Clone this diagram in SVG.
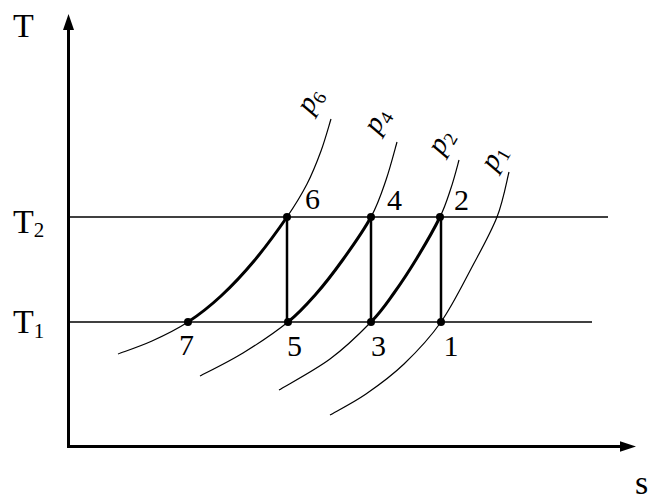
<svg xmlns="http://www.w3.org/2000/svg" width="651" height="501" viewBox="0 0 651 501">
<style>
.ax{stroke:#000;stroke-width:3;fill:none}
.hl{stroke:#000;stroke-width:1.6;fill:none}
.vl{stroke:#000;stroke-width:2.5;fill:none}
.thin{stroke:#000;stroke-width:1.2;fill:none}
.thick{stroke:#000;stroke-width:3;fill:none}
.lab{font-family:"Liberation Serif","Times New Roman",serif;fill:#000}
.big{font-size:34px}
.num{font-size:30px}
.pl{font-size:29px;font-style:italic}
</style>
<rect width="651" height="501" fill="#fff"/>
<g id="connectors">
  <line class="ax" x1="68.5" y1="448" x2="68.5" y2="28"/>
  <polygon points="68.5,14 63,30 74,30" fill="#000"/>
  <line class="ax" x1="67" y1="446.5" x2="622" y2="446.5"/>
  <polygon points="636,446.5 620,441.2 620,451.8" fill="#000"/>
  <line class="hl" x1="68" y1="217" x2="608" y2="217"/>
  <line class="hl" x1="68" y1="322" x2="592" y2="322"/>
  <line class="vl" x1="287" y1="217" x2="287" y2="322"/>
  <line class="vl" x1="371" y1="217" x2="371" y2="322"/>
  <line class="vl" x1="441" y1="217" x2="441" y2="322"/>
  <path id="p6" class="thin" d="M118,354 C123.7,351.8 140.3,346.3 152,341 C163.7,335.7 176.5,329.5 188,322 C199.5,314.5 210,306.2 221,296 C232,285.8 243,274.2 254,261 C265,247.8 278.2,229.8 287,217 C295.8,204.2 301.3,195 307,184 C312.7,173 317,161.8 321,151 C325,140.2 329.3,124.3 331,119"/>
  <path class="thick" d="M188,322 C199.5,314.5 210,306.2 221,296 C232,285.8 243,274.2 254,261 C265,247.8 278.2,229.8 287,217"/>
  <path id="p4" class="thin" d="M200,376 C207.2,372.2 228.3,362 243,353 C257.7,344 275.8,331.8 288,322 C300.2,312.2 306.8,304.4 316,294 C325.2,283.6 333.8,272.3 343,259.5 C352.2,246.7 363.8,230.3 371,217 C378.2,203.8 381.7,192.5 386,180 C390.3,167.5 395.2,148.3 397,142"/>
  <path class="thick" d="M288,322 C300.2,312.2 306.8,304.4 316,294 C325.2,283.6 333.8,272.3 343,259.5 C352.2,246.7 363.8,230.3 371,217"/>
  <path id="p2" class="thin" d="M279,390 C287.5,384.8 314.7,370.3 330,359 C345.3,347.7 360.3,333 371,322 C381.7,311 386.3,303.7 394,293 C401.7,282.3 409.3,270.7 417,258 C424.7,245.3 434.3,228.7 440,217 C445.7,205.3 447.8,197.5 451,188 C454.2,178.5 457.7,164.7 459,160"/>
  <path class="thick" d="M371,322 C381.7,311 386.3,303.7 394,293 C401.7,282.3 409.3,270.7 417,258 C424.7,245.3 434.3,228.7 440,217"/>
  <path id="p1" class="thin" d="M330,415 C336,411.5 353.7,402.5 366,394 C378.3,385.5 391.5,376 404,364 C416.5,352 429.7,338.2 441,322 C452.3,305.8 462.7,284.5 472,267 C481.3,249.5 490.8,232.8 497,217 C503.2,201.2 507,179.5 509,172"/>
</g>
<g id="points" fill="#000">
  <circle id="pt1" cx="441" cy="322" r="4"/>
  <circle id="pt2" cx="440" cy="217" r="4"/>
  <circle id="pt3" cx="371" cy="322" r="4"/>
  <circle id="pt4" cx="371" cy="217" r="4"/>
  <circle id="pt5" cx="288" cy="322" r="4"/>
  <circle id="pt6" cx="287" cy="217" r="4"/>
  <circle id="pt7" cx="188" cy="322" r="4"/>
</g>
<g id="labels" class="lab">
  <text class="big" x="13" y="37">T</text>
  <text class="big" x="13" y="233">T<tspan font-size="21" dy="4">2</tspan></text>
  <text class="big" x="13" y="333">T<tspan font-size="21" dy="5">1</tspan></text>
  <text class="big" x="635" y="494">s</text>
  <text class="num" x="305" y="209">6</text>
  <text class="num" x="387" y="210">4</text>
  <text class="num" x="454" y="210">2</text>
  <text class="num" x="179" y="355">7</text>
  <text class="num" x="287" y="356">5</text>
  <text class="num" x="371" y="356">3</text>
  <text class="num" x="443.5" y="356">1</text>
  <text class="pl" transform="translate(311,115) rotate(-60)">p<tspan font-size="19" font-style="normal" dy="5">6</tspan></text>
  <text class="pl" transform="translate(378,135) rotate(-60)">p<tspan font-size="19" font-style="normal" dy="5">4</tspan></text>
  <text class="pl" transform="translate(442,156) rotate(-60)">p<tspan font-size="19" font-style="normal" dy="5">2</tspan></text>
  <text class="pl" transform="translate(495,172) rotate(-60)">p<tspan font-size="19" font-style="normal" dy="5">1</tspan></text>
</g>
</svg>
